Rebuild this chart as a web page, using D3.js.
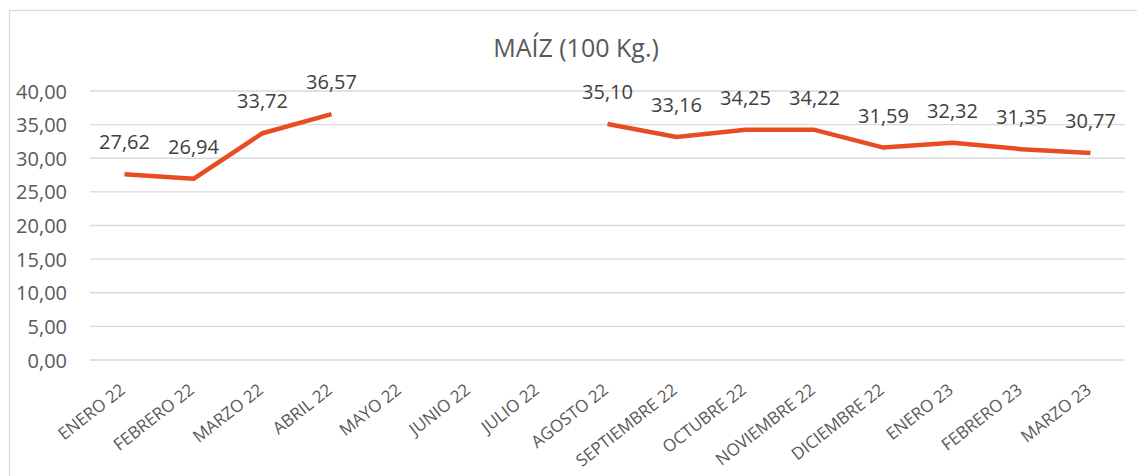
<!DOCTYPE html>
<html>
<head>
<meta charset="utf-8">
<script src="https://cdn.jsdelivr.net/npm/d3@7"></script>
<style>
  body { margin: 0; background: #fff; }
  svg { display: block; font-family: "Open Sans", sans-serif; }
  .grid line { stroke: #d9d9d9; stroke-width: 1.3px; }
  .axis text { fill: #595959; font-family: "Open Sans", sans-serif; }
</style>
</head>
<body>
<svg id="svg" width="1137" height="476"></svg>
<script>

var months = ['ENERO 22', 'FEBRERO 22', 'MARZO 22', 'ABRIL 22', 'MAYO 22', 'JUNIO 22',
  'JULIO 22', 'AGOSTO 22', 'SEPTIEMBRE 22', 'OCTUBRE 22', 'NOVIEMBRE 22',
  'DICIEMBRE 22', 'ENERO 23', 'FEBRERO 23', 'MARZO 23'];

// null = no data that month
var prices = [27.62, 26.94, 33.72, 36.57, null, null, null, 35.10, 33.16,
  34.25, 34.22, 31.59, 32.32, 31.35, 30.77];

var yTicks = [0, 5, 10, 15, 20, 25, 30, 35, 40];

var m = {top: 91, right: 12, bottom: 116, left: 90};
var W = 1137, H = 476;
var width = W - m.left - m.right, height = H - m.top - m.bottom;

var fmt = function (v) { return v.toFixed(2).replace('.', ','); };

var svg = d3.select('#svg');

// chart border
svg.append('rect')
  .attr('x', 9.5).attr('y', 10.5)
  .attr('width', W + 10).attr('height', H + 10)
  .attr('fill', 'none')
  .attr('stroke', '#d9d9d9')
  .attr('stroke-width', 1.3);

svg.append('text')
  .attr('x', 576).attr('y', 57)
  .attr('text-anchor', 'middle')
  .attr('font-size', 25)
  .attr('fill', '#595959')
  .text('MAÍZ (100 Kg.)');

var g = svg.append('g')
  .attr('transform', 'translate(' + m.left + ',' + m.top + ')');

var x = d3.scaleBand()
  .domain(months)
  .range([0, width]);

var y = d3.scaleLinear()
  .domain([0, 40])
  .range([height, 0]);

// gridlines
g.append('g')
  .attr('class', 'grid')
  .selectAll('line').data(yTicks)
  .enter().append('line')
  .attr('x1', 0).attr('x2', width)
  .attr('y1', function (d) { return y(d); })
  .attr('y2', function (d) { return y(d); });

// y axis
var yAxis = g.append('g')
  .attr('class', 'axis')
  .call(d3.axisLeft(y).tickValues(yTicks).tickFormat(fmt).tickSize(0).tickPadding(23));
yAxis.attr('font-family', null).attr('font-size', null);
yAxis.select('.domain').remove();
yAxis.selectAll('text').attr('font-size', 20).attr('dy', '0.35em');

// x axis
var xAxis = g.append('g')
  .attr('class', 'axis')
  .attr('transform', 'translate(0,' + height + ')')
  .call(d3.axisBottom(x).tickSize(0));
xAxis.attr('font-family', null).attr('font-size', null);
xAxis.select('.domain').remove();
xAxis.selectAll('text')
  .attr('font-size', 17)
  .attr('text-anchor', 'end')
  .attr('dy', null)
  .attr('transform', 'translate(2,32) rotate(-38)')
  .attr('y', 0).attr('x', 0);

// price line
var cx = function (i) { return x(months[i]) + x.bandwidth() / 2; };

var line = d3.line()
  .defined(function (d) { return d != null; })
  .x(function (d, i) { return cx(i); })
  .y(function (d) { return y(d); });

g.append('path')
  .datum(prices)
  .attr('d', line)
  .attr('fill', 'none')
  .attr('stroke', '#e84c22')
  .attr('stroke-width', 4.5)
  .attr('stroke-linejoin', 'round');

// data labels
g.append('g')
  .selectAll('text')
  .data(prices.map(function (v, i) { return {v: v, i: i}; })
    .filter(function (d) { return d.v != null; }))
  .enter().append('text')
  .attr('x', function (d) { return cx(d.i); })
  .attr('y', function (d) { return y(d.v) - 25; })
  .attr('text-anchor', 'middle')
  .attr('font-size', 20)
  .attr('fill', '#404040')
  .text(function (d) { return fmt(d.v); });

</script>
</body>
</html>
